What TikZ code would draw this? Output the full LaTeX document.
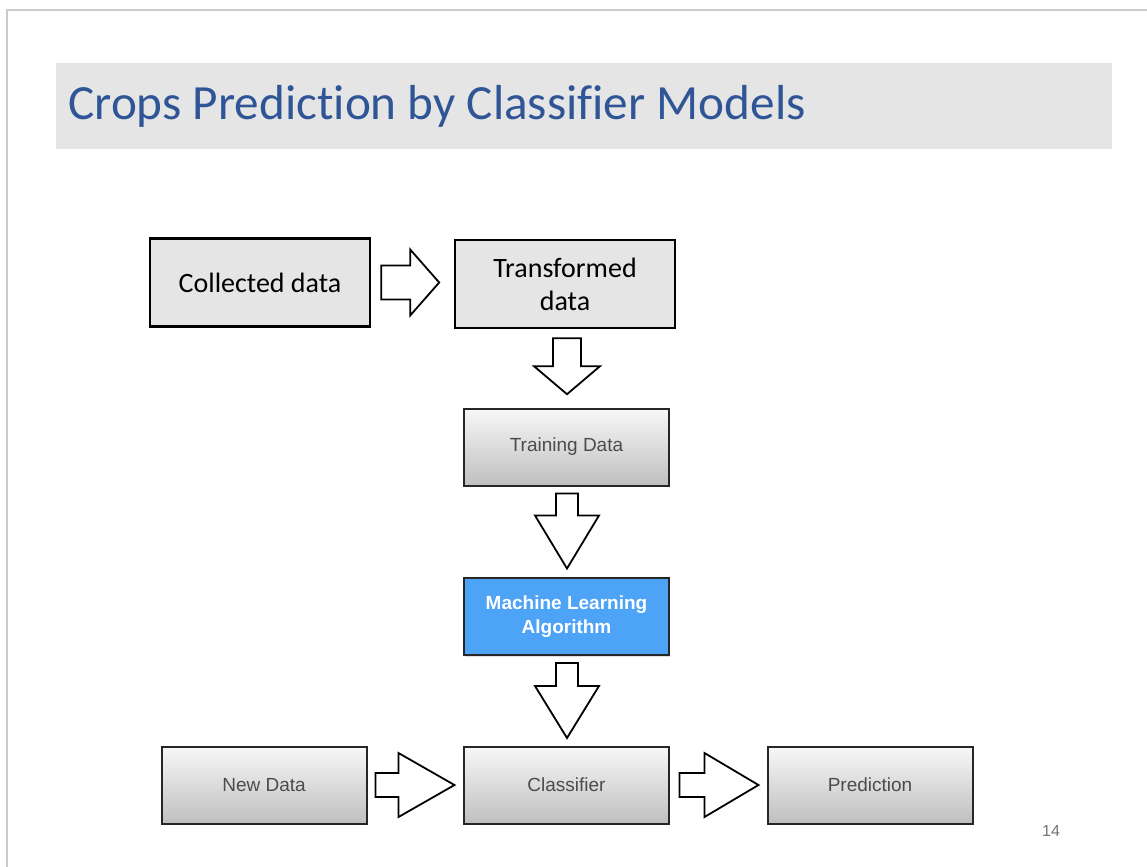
\documentclass[tikz,border=0pt]{standalone}
\usepackage{fontspec}
\setmainfont{Carlito}[Ligatures=NoCommon]
\newfontfamily\helv{Liberation Sans}
\usepackage{xcolor}
\usepackage{tikz}
\usetikzlibrary{calc,shadows}

\definecolor{titleblue}{HTML}{2F5597}
\definecolor{bandgray}{HTML}{E5E5E5}
\definecolor{mlblue}{HTML}{4DA3F5}
\definecolor{framegray}{HTML}{CBCBCB}

% block arrows: start point, length, shaft half width, head half width, head length
\newcommand{\rblockarrow}[5]{%
  \draw[blockarr] #1 -- ++(0,#3) -- ++({#2-#5},0) -- ++(0,{#4-#3}) -- ++(#5,{-#4})
    -- ++({-#5},{-#4}) -- ++(0,{#4-#3}) -- ++({#5-#2},0) -- cycle;}
\newcommand{\dblockarrow}[5]{%
  \draw[blockarr] #1 -- ++(#3,0) -- ++(0,{#2-#5}) -- ++({#4-#3},0) -- ++({-#4},#5)
    -- ++({-#4},{-#5}) -- ++({#4-#3},0) -- ++(0,{#5-#2}) -- cycle;}

\begin{document}
\begin{tikzpicture}[x=0.5pt, y=-0.5pt,
    databox/.style={rectangle, draw=black, line width=1.2pt, fill=bandgray,
      minimum width=110pt, minimum height=44pt, align=center, font=\fontsize{14}{16.5}\selectfont},
    stagebox/.style={rectangle, draw=black!85, line width=1pt, top color=black!3, bottom color=black!25,
      drop shadow={shadow xshift=0.4pt, shadow yshift=-0.8pt, opacity=0.25},
      minimum width=102.5pt, minimum height=38.5pt, align=center,
      text=black!70, font=\helv\fontsize{9.5}{12}\selectfont},
    blockarr/.style={draw=black, line width=0.9pt, fill=white, line join=miter}]

    \useasboundingbox (0,0) rectangle (1147,867);

    % slide frame and title band
    \draw[framegray, line width=0.8pt] (7,880) -- (7,10) -- (1160,10);
    \fill[bandgray] (56,63) rectangle (1112,149);
    \node[anchor=base west, inner sep=0pt, text=titleblue, font=\fontsize{24.6}{30}\selectfont]
      (title) at (68,119) {Crops Prediction by Classifier Models};

    % boxes
    \node[databox] (collected) at (260,282.5) {Collected data};
    \node[databox] (transformed) at (565,284) {Transformed\\data};
    \node[stagebox] (training) at (566.5,447) {Training Data};
    \node[stagebox, top color=mlblue, bottom color=mlblue, text=white, font=\helv\bfseries\fontsize{9.5}{12}\selectfont]
      (ml) at (566.5,616.5) {Machine Learning\\Algorithm};
    \node[stagebox] (newdata) at (264,785) {New Data};
    \node[stagebox] (classifier) at (566.5,785) {Classifier};
    \node[stagebox] (prediction) at (870,785) {Prediction};

    % arrows
    \rblockarrow{($(collected.east)+(10,0)$)}{58}{17}{33}{29}
    \dblockarrow{($(transformed.south)+(2,9)$)}{56}{14}{33}{28}
    \dblockarrow{($(training.south)+(0.5,7)$)}{75}{11}{32}{53}
    \dblockarrow{($(ml.south)+(0.5,7)$)}{75}{11}{32}{52}
    \rblockarrow{($(newdata.east)+(8,0)$)}{79}{12}{32}{56}
    \rblockarrow{($(classifier.east)+(9.5,0)$)}{79}{12}{32}{54}

    \node[text=black!55, font=\helv\fontsize{8}{10}\selectfont] (pagenum) at (1051,831) {14};

\end{tikzpicture}
\end{document}
